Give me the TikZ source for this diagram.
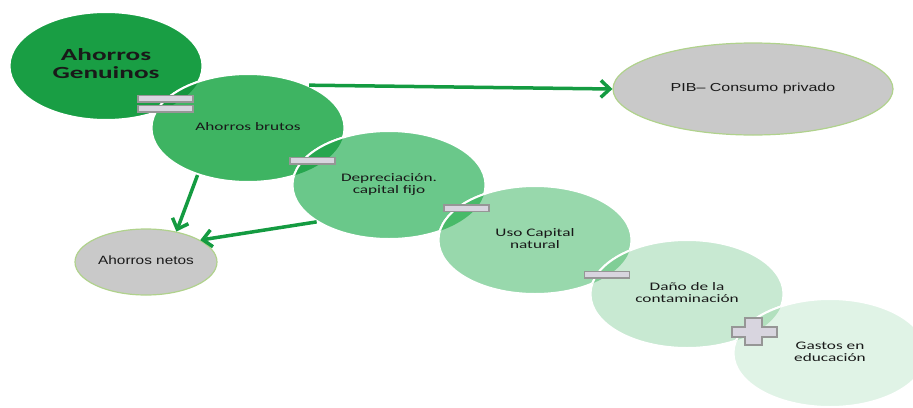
\documentclass[tikz,border=0pt]{standalone}
\usepackage{fontspec}
\setmainfont{Carlito}
\newfontfamily\arialfont{Liberation Sans}
\usepackage{graphicx}
\usepackage{tikz}
\usetikzlibrary{shapes.geometric,arrows.meta}
\definecolor{gA}{RGB}{25,158,68}
\definecolor{gB}{RGB}{62,180,98}
\definecolor{gC}{RGB}{106,200,138}
\definecolor{gD}{RGB}{152,216,172}
\definecolor{gE}{RGB}{200,233,210}
\definecolor{gF}{RGB}{224,243,230}
\definecolor{ovA}{RGB}{22,150,62}
\definecolor{ovB}{RGB}{38,166,78}
\definecolor{ovC}{RGB}{72,186,105}
\definecolor{ovD}{RGB}{128,206,150}
\definecolor{ovE}{RGB}{178,224,190}
\definecolor{arrowgreen}{RGB}{20,155,65}
\definecolor{bargray}{RGB}{216,213,223}
\definecolor{barline}{RGB}{150,150,150}
\definecolor{ovalgray}{RGB}{201,201,201}
\definecolor{ovalline}{RGB}{176,210,140}
\newcommand{\wide}[2][1.5]{\scalebox{#1}[1]{\begin{tabular}{@{}c@{}}#2\end{tabular}}}
\tikzset{
  stage/.style={ellipse,fill=#1,draw=white,line width=2pt,minimum width=193pt,minimum height=108pt,inner sep=0pt,text=black!90,font=\fontsize{11.5}{12.5}\selectfont},
  result/.style={ellipse,fill=ovalgray,draw=ovalline,line width=1.2pt,inner sep=0pt,text=black!90},
  bar/.style={rectangle,fill=bargray,draw=barline,line width=1.5pt,minimum width=45pt,minimum height=6.5pt,inner sep=0pt},
  flow/.style={draw=arrowgreen,line width=3.5pt,-{Straight Barb[length=9pt,width=17pt]}}
}
\begin{document}
\begin{tikzpicture}[x=1pt,y=-1pt]
  \useasboundingbox(0,0)rectangle(913,407);
  \clip(0,0)rectangle(913,407);
  \node[stage=gA,font=\bfseries\fontsize{17}{17.7}\selectfont](genuinos)at(106,66){\wide[1.6]{Ahorros\\Genuinos}};
  \node[stage=gB](brutos)at(248,128){\wide{Ahorros brutos}};
  \begin{scope}\clip(106,66)ellipse(96.5pt and 54pt);\filldraw[fill=ovA,draw=white,line width=2pt](248,128)ellipse(96.5pt and 54pt);\end{scope}
  \node[stage=gC](depreciacion)at(389,185){\wide{Depreciación.\\capital fijo}};
  \begin{scope}\clip(248,128)ellipse(96.5pt and 54pt);\filldraw[fill=ovB,draw=white,line width=2pt](389,185)ellipse(96.5pt and 54pt);\end{scope}
  \node[stage=gD](uso)at(535,240){\wide{Uso Capital\\natural}};
  \begin{scope}\clip(389,185)ellipse(96.5pt and 54pt);\filldraw[fill=ovC,draw=white,line width=2pt](535,240)ellipse(96.5pt and 54pt);\end{scope}
  \node[stage=gE](dano)at(687,294){\wide{Daño de la\\contaminación}};
  \begin{scope}\clip(535,240)ellipse(96.5pt and 54pt);\filldraw[fill=ovD,draw=white,line width=2pt](687,294)ellipse(96.5pt and 54pt);\end{scope}
  \node[stage=gF](gastos)at(830,353){\wide{Gastos en\\educación}};
  \begin{scope}\clip(687,294)ellipse(96.5pt and 54pt);\filldraw[fill=ovE,draw=white,line width=2pt](830,353)ellipse(96.5pt and 54pt);\end{scope}
  \node[bar,minimum width=55pt](equala)at(165.5,98.5){};
  \node[bar,minimum width=55pt](equalb)at(165.5,108.5){};
  \node[bar](minusa)at(312.5,160.5){};
  \node[bar](minusb)at(466.5,208){};
  \node[bar](minusc)at(607,274.5){};
  \draw[fill=bargray,draw=barline,line width=1.5pt](745,318)--(762,318)--(762,327)--(777,327)--(777,337)--(762,337)--(762,345)--(745,345)--(745,337)--(732,337)--(732,327)--(745,327)--cycle;
  \node[result,minimum width=280pt,minimum height=92pt,font=\arialfont\fontsize{11.6}{13}\selectfont](pib)at(753,89){\wide[1.38]{PIB– Consumo privado}};
  \node[result,minimum width=142pt,minimum height=66pt,font=\arialfont\fontsize{12}{13}\selectfont](netos)at(146,262){\wide[1.28]{Ahorros netos\hspace{11pt}}};
  \draw[flow](brutos.35)--(pib.west);
  \draw[flow](brutos.223)--(netos.45);
  \draw[flow](depreciacion.207)--(netos.22);
\end{tikzpicture}
\end{document}
